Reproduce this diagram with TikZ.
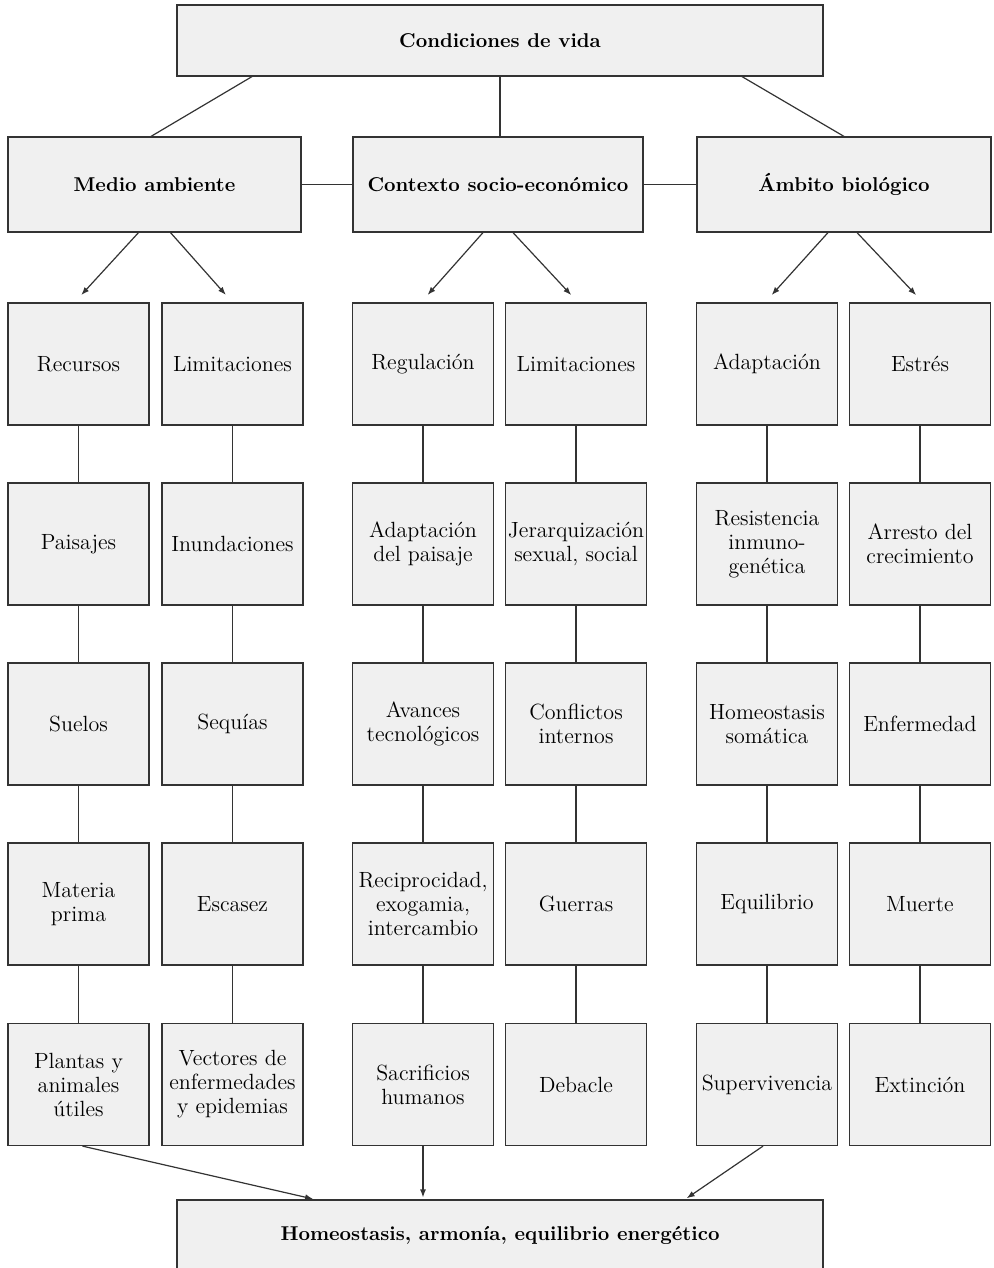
\documentclass[tikz,border=0pt]{standalone}
\usepackage{xcolor}
\usepackage{tikz}
\usetikzlibrary{arrows.meta}
\usetikzlibrary{positioning}

\definecolor{boxfill}{HTML}{F0F0F0}
\definecolor{linegray}{HTML}{333333}

\begin{document}
\begin{tikzpicture}[x=0.5pt, y=-0.5pt,
  every node/.style={font=\fontsize{11}{12}\selectfont, align=center},
  box/.style={rectangle, draw=linegray, fill=boxfill, line width=0.6pt, minimum width=70.5pt, minimum height=61pt, inner sep=0.3pt},
  head/.style={box, font=\fontsize{10}{12}\selectfont\bfseries, minimum height=47.5pt},
  wide/.style={head, minimum width=323pt, minimum height=35.5pt},
  link/.style={draw=linegray, line width=0.6pt},
  arr/.style={link, -{Latex[length=4pt, width=3pt]}}
]
\useasboundingbox (0,0) rectangle (993,1268) ;

% Nodes 
\node[wide] at (500, 40.5) (cv) {Condiciones de vida} ; 
\node[head, minimum width=146.5pt] at (154.5, 184.5) (ma) {Medio ambiente} ; 
\node[head, minimum width=145pt] at (498, 184.5) (cs) {Contexto socio-económico} ; 
\node[head, minimum width=147pt] at (844, 184.5) (ab) {Ámbito biológico} ; 

\node[box] at (78.5, 364) (a1) {Recursos} ; 
\node[box] at (232.5, 364) (b1) {Limitaciones} ; 
\node[box] at (423, 364) (c1) {Regulación} ; 
\node[box] at (576, 364) (d1) {Limitaciones} ; 
\node[box] at (767, 364) (e1) {Adaptación} ; 
\node[box] at (920, 364) (f1) {Estrés} ; 

\node[box] at (78.5, 544) (a2) {Paisajes} ; 
\node[box] at (232.5, 544) (b2) {Inundaciones} ; 
\node[box] at (423, 544) (c2) {Adaptación\\del paisaje} ; 
\node[box] at (576, 544) (d2) {Jerarquización\\sexual, social} ; 
\node[box] at (767, 544) (e2) {Resistencia\\inmuno-\\genética} ; 
\node[box] at (920, 544) (f2) {Arresto del\\crecimiento} ; 

\node[box] at (78.5, 724) (a3) {Suelos} ; 
\node[box] at (232.5, 724) (b3) {Sequías} ; 
\node[box] at (423, 724) (c3) {Avances\\tecnológicos} ; 
\node[box] at (576, 724) (d3) {Conflictos\\internos} ; 
\node[box] at (767, 724) (e3) {Homeostasis\\somática} ; 
\node[box] at (920, 724) (f3) {Enfermedad} ; 

\node[box] at (78.5, 904) (a4) {Materia\\prima} ; 
\node[box] at (232.5, 904) (b4) {Escasez} ; 
\node[box] at (423, 904) (c4) {Reciprocidad,\\exogamia,\\intercambio} ; 
\node[box] at (576, 904) (d4) {Guerras} ; 
\node[box] at (767, 904) (e4) {Equilibrio} ; 
\node[box] at (920, 904) (f4) {Muerte} ; 

\node[box] at (78.5, 1084.5) (a5) {Plantas y\\animales\\útiles} ; 
\node[box] at (232.5, 1084.5) (b5) {Vectores de\\enfermedades\\y epidemias} ; 
\node[box] at (423, 1084.5) (c5) {Sacrificios\\humanos} ; 
\node[box] at (576, 1084.5) (d5) {Debacle} ; 
\node[box] at (767, 1084.5) (e5) {Supervivencia} ; 
\node[box] at (920, 1084.5) (f5) {Extinción} ; 

\node[wide] at (500, 1235.5) (h) {Homeostasis, armonía, equilibrio energético} ; 

% Lines 
\draw[link] ([xshift=-124pt]cv.south) -- ([xshift=-1.75pt]ma.north) ; 
\draw[link] (cv.south) -- (cv.south |- cs.north) ; 
\draw[link] ([xshift=121pt]cv.south) -- (ab.north) ; 
\draw[link] (ma.east) -- (cs.west) ; 
\draw[link] (cs.east) -- (ab.west) ; 

% Arrows to the first row
\draw[arr, shorten >=5pt] ([xshift=-8pt]ma.south) -- ([xshift=-2pt]a1.north) ; 
\draw[arr, shorten >=5pt] ([xshift=8pt]ma.south) -- (b1.north) ; 
\draw[arr, shorten >=5pt] ([xshift=-7.5pt]cs.south) -- ([xshift=-1pt]c1.north) ; 
\draw[arr, shorten >=5pt] ([xshift=7.5pt]cs.south) -- ([xshift=1pt]d1.north) ; 
\draw[arr, shorten >=5pt] ([xshift=-8pt]ab.south) -- ([xshift=-1pt]e1.north) ; 
\draw[arr, shorten >=5pt] ([xshift=6.5pt]ab.south) -- ([xshift=1.5pt]f1.north) ; 

% Columns
\draw[link] (a1) -- (a2) -- (a3) -- (a4) -- (a5) ; 
\draw[link] (b1) -- (b2) -- (b3) -- (b4) -- (b5) ; 
\draw[link] (c1) -- (c2) -- (c3) -- (c4) -- (c5) ; 
\draw[link] (d1) -- (d2) -- (d3) -- (d4) -- (d5) ; 
\draw[link] (e1) -- (e2) -- (e3) -- (e4) -- (e5) ; 
\draw[link] (f1) -- (f2) -- (f3) -- (f4) -- (f5) ; 

% Arrows to the bottom
\draw[arr, shorten >=1pt] ([xshift=2pt]a5.south) -- ([xshift=-92.5pt]h.north) ; 
\draw[arr, shorten >=1pt] (c5.south) -- (c5.south |- h.north) ; 
\draw[arr, shorten >=1pt] ([xshift=-2pt]e5.south) -- ([xshift=92.5pt]h.north) ; 

\end{tikzpicture}
\end{document}
